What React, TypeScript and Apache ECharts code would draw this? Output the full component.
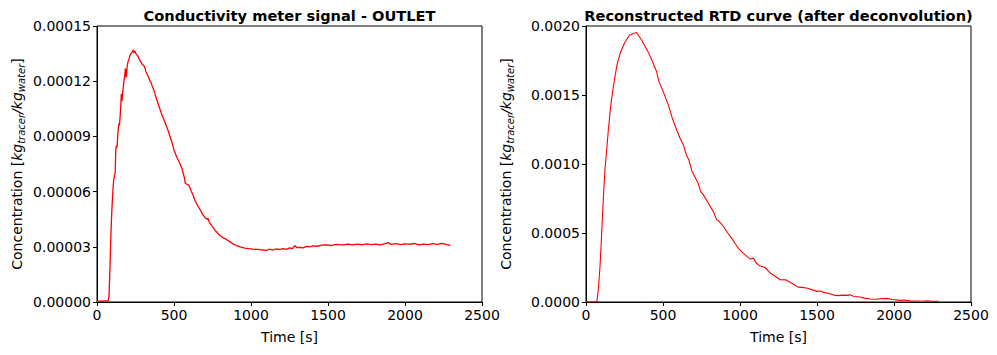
import React, { useEffect, useRef } from "react";
import * as echarts from "echarts";

// ---- Left panel: conductivity meter signal (OUTLET) ----
const leftTime = [
  0, 20, 40, 60, 72, 78, 84, 90, 96, 102, 108, 114, 118, 122, 126, 130, 136, 142, 146, 152,
  158, 162, 168, 175, 180, 184, 190, 196, 201, 208, 214, 220, 226, 234, 240, 246, 252, 258, 266, 274,
  280, 288, 296, 304, 310, 318, 327, 336, 344, 350, 360, 370, 380, 392, 404, 418, 430, 444, 458, 472,
  486, 500, 512, 522, 531, 540, 550, 558, 566, 574, 584, 595, 604, 613, 624, 634, 646, 660, 674, 688,
  700, 712, 721, 730, 742, 753, 766, 786, 800, 818, 840, 862, 884, 905, 930, 959, 985, 1013, 1040, 1070,
  1100, 1120, 1140, 1160, 1186, 1210, 1230, 1251, 1270, 1284, 1300, 1316, 1340, 1360, 1380, 1403, 1430, 1460, 1490, 1520,
  1550, 1571, 1600, 1630, 1660, 1690, 1720, 1750, 1780, 1810, 1840, 1870, 1890, 1910, 1940, 1970, 2000, 2030, 2060, 2090,
  2120, 2150, 2180, 2210, 2240, 2270, 2295,
];
// values in units of 1e-5 kg_tracer/kg_water
const leftConcE5 = [
  0.03, 0.05, 0.04, 0.06, 0.05, 0.3, 1.8, 3.6, 4.9, 5.9, 6.6, 6.9, 7.0, 8.3, 8.5, 8.4, 9.2, 9.7, 9.6, 10.3,
  11.3, 10.9, 11.5, 12.0, 12.3, 12.7, 12.2, 12.8, 13.05, 13.2, 13.4, 13.5, 13.55, 13.7, 13.55, 13.65, 13.5, 13.45, 13.35, 13.2,
  13.1, 13.0, 12.9, 12.85, 12.75, 12.5, 12.35, 12.2, 12.0, 11.95, 11.7, 11.5, 11.2, 10.9, 10.6, 10.25, 10.0, 9.7, 9.4, 9.05,
  8.7, 8.25, 8.0, 7.8, 7.65, 7.5, 7.3, 7.05, 6.8, 6.45, 6.4, 6.35, 6.2, 6.0, 5.8, 5.55, 5.35, 5.15, 4.95, 4.73,
  4.6, 4.5, 4.55, 4.3, 4.2, 4.05, 3.9, 3.72, 3.6, 3.5, 3.4, 3.28, 3.15, 3.07, 3.0, 2.93, 2.9, 2.87, 2.86, 2.83,
  2.8, 2.87, 2.82, 2.88, 2.86, 2.9, 2.86, 2.94, 2.9, 3.07, 2.95, 2.97, 2.94, 3.02, 3.0, 3.05, 3.03, 3.09, 3.1, 3.07,
  3.13, 3.12, 3.1, 3.15, 3.11, 3.14, 3.1, 3.16, 3.12, 3.14, 3.1, 3.17, 3.23, 3.13, 3.17, 3.12, 3.16, 3.13, 3.18, 3.11,
  3.15, 3.12, 3.17, 3.13, 3.19, 3.12, 3.08,
];

// ---- Right panel: reconstructed RTD curve ----
const rightTime = [
  0, 40, 70, 80, 91, 102, 112, 123, 134, 145, 162, 184, 203, 225, 249, 271, 285, 297, 310, 323,
  332, 340, 362, 383, 409, 437, 459, 474, 502, 535, 561, 589, 611, 632, 654, 668, 689, 710, 728, 745,
  762, 790, 827, 849, 860, 892, 920, 946, 970, 989, 1010, 1033, 1066, 1087, 1100, 1126, 1163, 1180, 1196, 1230,
  1261, 1300, 1334, 1377, 1400, 1432, 1470, 1497, 1520, 1550, 1584, 1610, 1639, 1670, 1700, 1715, 1740, 1780, 1810, 1845,
  1880, 1910, 1953, 1990, 2040, 2070, 2100, 2148, 2180, 2220, 2260, 2289,
];
// values in units of 1e-3 kg_tracer/kg_water
const rightConcE3 = [
  0, 0, 0, 0.09, 0.257, 0.499, 0.74, 0.957, 1.1, 1.246, 1.439, 1.607, 1.728, 1.812, 1.873, 1.916, 1.935, 1.94, 1.945, 1.952,
  1.948, 1.933, 1.897, 1.853, 1.8, 1.728, 1.668, 1.595, 1.523, 1.427, 1.33, 1.246, 1.186, 1.137, 1.06, 1.029, 0.944, 0.9, 0.86, 0.8,
  0.776, 0.725, 0.655, 0.595, 0.59, 0.547, 0.5, 0.463, 0.42, 0.39, 0.365, 0.342, 0.311, 0.318, 0.29, 0.262, 0.25, 0.23, 0.21, 0.185,
  0.161, 0.16, 0.137, 0.108, 0.106, 0.101, 0.088, 0.077, 0.08, 0.068, 0.06, 0.05, 0.046, 0.05, 0.048, 0.053, 0.04, 0.036, 0.028, 0.022,
  0.02, 0.024, 0.026, 0.018, 0.012, 0.015, 0.008, 0.007, 0.005, 0.009, 0.004, 0.007,
];

// ---- Axes / tick labels ----
const xTicks = [0, 500, 1000, 1500, 2000, 2500];
const leftYTicks = ["0.00000", "0.00003", "0.00006", "0.00009", "0.00012", "0.00015"];
const rightYTicks = ["0.0000", "0.0005", "0.0010", "0.0015", "0.0020"];
const titles = ["Conductivity meter signal - OUTLET", "Reconstructed RTD curve (after deconvolution)"];
const xName = "Time [s]";

const FONT = "DejaVu Sans";

export default function App() {
  const ref = useRef<HTMLDivElement>(null);

  useEffect(() => {
    if (!ref.current) return;
    const chart = echarts.init(ref.current, null, { renderer: "svg" });

    const leftData = leftTime.map((t, i) => [t, leftConcE5[i] * 1e-5]);
    const rightData = rightTime.map((t, i) => [t, rightConcE3[i] * 1e-3]);

    const grids = [
      { left: 97, top: 26, width: 385, height: 276 },
      { left: 586, top: 26, width: 385, height: 276 },
    ];

    const yTickSets = [leftYTicks, rightYTicks];
    const decimals = [5, 4];

    const xAxes = grids.map((_, gi) => ({
      type: "value",
      gridIndex: gi,
      min: xTicks[0],
      max: xTicks[xTicks.length - 1],
      interval: xTicks[1] - xTicks[0],
      axisLine: { show: true, lineStyle: { color: "#000", width: 1 } },
      axisTick: { show: true, inside: false, length: 4, lineStyle: { color: "#000" } },
      axisLabel: {
        color: "#000",
        fontSize: 14,
        fontFamily: FONT,
        margin: 6,
        formatter: (v: number) => String(Math.round(v)),
      },
      splitLine: { show: false },
    }));

    const yAxes = grids.map((_, gi) => {
      const ticks = yTickSets[gi].map(Number);
      return {
        type: "value",
        gridIndex: gi,
        min: ticks[0],
        max: ticks[ticks.length - 1],
        interval: ticks[1] - ticks[0],
        axisLine: { show: true, lineStyle: { color: "#000", width: 1 } },
        axisTick: { show: true, inside: false, length: 4, lineStyle: { color: "#000" } },
        axisLabel: {
          color: "#000",
          fontSize: 14,
          fontFamily: FONT,
          margin: 6,
          formatter: (v: number) => v.toFixed(decimals[gi]),
        },
        splitLine: { show: false },
      };
    });

    const rich = {
      n: { fontSize: 14, fontFamily: FONT, color: "#000", lineHeight: 18 },
      i: { fontSize: 14, fontFamily: FONT, fontStyle: "italic", color: "#000", lineHeight: 18 },
      s: {
        fontSize: 10,
        fontFamily: FONT,
        fontStyle: "italic",
        color: "#000",
        lineHeight: 10,
        verticalAlign: "bottom",
      },
    };
    const yNameText = "{n|Concentration [}{i|kg}{s|tracer}{i|/kg}{s|water}{n|]}";

    const graphic: any[] = [];
    grids.forEach((g, gi) => {
      const cx = g.left + g.width / 2;
      const cy = g.top + g.height / 2;
      graphic.push({
        type: "text",
        x: cx,
        y: 15.5,
        style: {
          text: titles[gi],
          fontSize: 14.6,
          fontWeight: "bold",
          fontFamily: FONT,
          fill: "#000",
          align: "center",
          verticalAlign: "middle",
        },
      });
      graphic.push({
        type: "text",
        x: cx,
        y: 337,
        style: {
          text: xName,
          fontSize: 14,
          fontFamily: FONT,
          fill: "#000",
          align: "center",
          verticalAlign: "middle",
        },
      });
      graphic.push({
        type: "text",
        x: g.left - 80,
        y: cy,
        rotation: Math.PI / 2,
        style: {
          text: yNameText,
          rich,
          align: "center",
          verticalAlign: "middle",
        },
      });
    });

    chart.setOption({
      animation: false,
      backgroundColor: "#fff",
      grid: grids.map((g) => ({ ...g, show: true, borderColor: "#000", borderWidth: 1 })),
      xAxis: xAxes,
      yAxis: yAxes,
      series: [
        {
          type: "line",
          xAxisIndex: 0,
          yAxisIndex: 0,
          data: leftData,
          showSymbol: false,
          lineStyle: { color: "#ff0000", width: 1.3 },
        },
        {
          type: "line",
          xAxisIndex: 1,
          yAxisIndex: 1,
          data: rightData,
          showSymbol: false,
          lineStyle: { color: "#ff0000", width: 1.1 },
        },
      ],
      graphic,
    });

    return () => chart.dispose();
  }, []);

  return (
    <div
      ref={ref}
      style={{ position: "absolute", left: 0, top: 0, width: 997, height: 355, background: "#fff" }}
    />
  );
}
